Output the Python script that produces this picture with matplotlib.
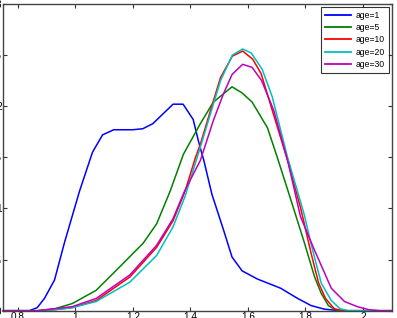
import matplotlib
matplotlib.use("Agg")
import matplotlib.pyplot as plt

plt.rcParams['font.family'] = ['Liberation Sans', 'DejaVu Sans']

labels = ['age=1', 'age=5', 'age=10', 'age=20', 'age=30']
colors = ['b', 'g', 'r', 'c', 'm']
xtick_vals = [0.8, 1.0, 1.2, 1.4, 1.6, 1.8, 2.0]
xtick_labels = ['0.8', '1', '1.2', '1.4', '1.6', '1.8', '2']
ytick_vals = [0, 0.5, 1, 1.5, 2, 2.5, 3]
ytick_labels = ['0', '0.5', '1', '1.5', '2', '2.5', '3']

# age=1
x1 = [0.75, 0.84, 0.868, 0.893, 0.928, 0.963, 1.015, 1.06, 1.095, 1.134, 1.2, 1.235, 1.27,
      1.34, 1.375, 1.41, 1.43, 1.447, 1.475, 1.516, 1.545, 1.58, 1.633, 1.714, 1.773, 1.82,
      1.866, 1.92, 2.1]
y1 = [0, 0, 0.03, 0.12, 0.30, 0.67, 1.17, 1.55, 1.72, 1.77, 1.77, 1.78, 1.83,
      2.02, 2.02, 1.87, 1.64, 1.47, 1.14, 0.785, 0.525, 0.39, 0.31, 0.22, 0.12, 0.05,
      0.015, 0, 0]

# age=5
x5 = [0.75, 0.87, 0.93, 0.99, 1.073, 1.155, 1.236, 1.283, 1.33, 1.376, 1.435, 1.48, 1.545,
      1.58, 1.615, 1.668, 1.70, 1.75, 1.797, 1.832, 1.855, 1.88, 1.91, 2.1]
y5 = [0, 0, 0.02, 0.07, 0.2, 0.43, 0.66, 0.85, 1.17, 1.53, 1.83, 2.04, 2.19,
      2.13, 2.04, 1.79, 1.52, 1.08, 0.66, 0.33, 0.17, 0.05, 0, 0]

# age=10
x10 = [0.75, 0.87, 0.93, 0.99, 1.073, 1.19, 1.283, 1.34, 1.382, 1.417, 1.435, 1.48, 1.505,
       1.546, 1.582, 1.617, 1.646, 1.738, 1.783, 1.82, 1.846, 1.87, 1.90, 1.93, 2.1]
y10 = [0, 0, 0.01, 0.03, 0.10, 0.33, 0.62, 0.88, 1.17, 1.49, 1.63, 2.05, 2.28,
       2.49, 2.54, 2.46, 2.32, 1.47, 1.01, 0.56, 0.27, 0.12, 0.02, 0, 0]

# age=20
x20 = [0.75, 0.87, 0.93, 0.99, 1.073, 1.19, 1.283, 1.34, 1.382, 1.435, 1.48, 1.505, 1.546,
       1.582, 1.612, 1.65, 1.685, 1.738, 1.796, 1.82, 1.855, 1.89, 1.92, 1.95, 2.1]
y20 = [0, 0, 0.01, 0.03, 0.09, 0.28, 0.54, 0.82, 1.12, 1.6, 2.02, 2.25, 2.50,
       2.56, 2.52, 2.36, 2.09, 1.5, 0.94, 0.65, 0.27, 0.1, 0.02, 0, 0]

# age=30
x30 = [0.75, 0.87, 0.99, 1.073, 1.19, 1.283, 1.34, 1.38, 1.435, 1.48, 1.515, 1.545, 1.582,
       1.615, 1.648, 1.69, 1.74, 1.783, 1.832, 1.89, 1.936, 1.98, 2.02, 2.06, 2.1]
y30 = [0, 0, 0.04, 0.12, 0.35, 0.64, 0.9, 1.17, 1.47, 1.86, 2.12, 2.31, 2.41,
       2.38, 2.25, 1.96, 1.45, 0.92, 0.59, 0.22, 0.09, 0.04, 0.01, 0, 0]

xs = [x1, x5, x10, x20, x30]
ys = [y1, y5, y10, y20, y30]

fig = plt.figure(figsize=(3.97, 3.18), dpi=100)
ax = fig.add_axes([3.3 / 397, 1 - 310.7 / 318, (391.7 - 3.3) / 397, (310.7 - 4) / 318])

for x, y, c, lab in zip(xs, ys, colors, labels):
    ax.plot(x, y, color=c, lw=1.1, label=lab, clip_on=False)

ax.set_xlim(0.75, 2.1)
ax.set_ylim(0, 3)
ax.set_xticks(xtick_vals)
ax.set_xticklabels(xtick_labels)
ax.set_yticks(ytick_vals)
ax.set_yticklabels(ytick_labels)
ax.tick_params(direction='in', top=True, right=True, length=3, width=0.8,
               labelsize=7.2, pad=1.2, colors='#333333', labelcolor='black')
for s in ax.spines.values():
    s.set_color('#444444')
    s.set_linewidth(1.0)

leg = ax.legend(loc='upper right', fontsize=6.2, frameon=True, fancybox=False,
                handlelength=3.0, handletextpad=0.5, labelspacing=0.38,
                borderaxespad=0.3, borderpad=0.5)
leg.get_frame().set_edgecolor('black')
leg.get_frame().set_linewidth(0.8)
for line in leg.get_lines():
    line.set_linewidth(1.3)

fig.savefig('out.png', dpi=100)
